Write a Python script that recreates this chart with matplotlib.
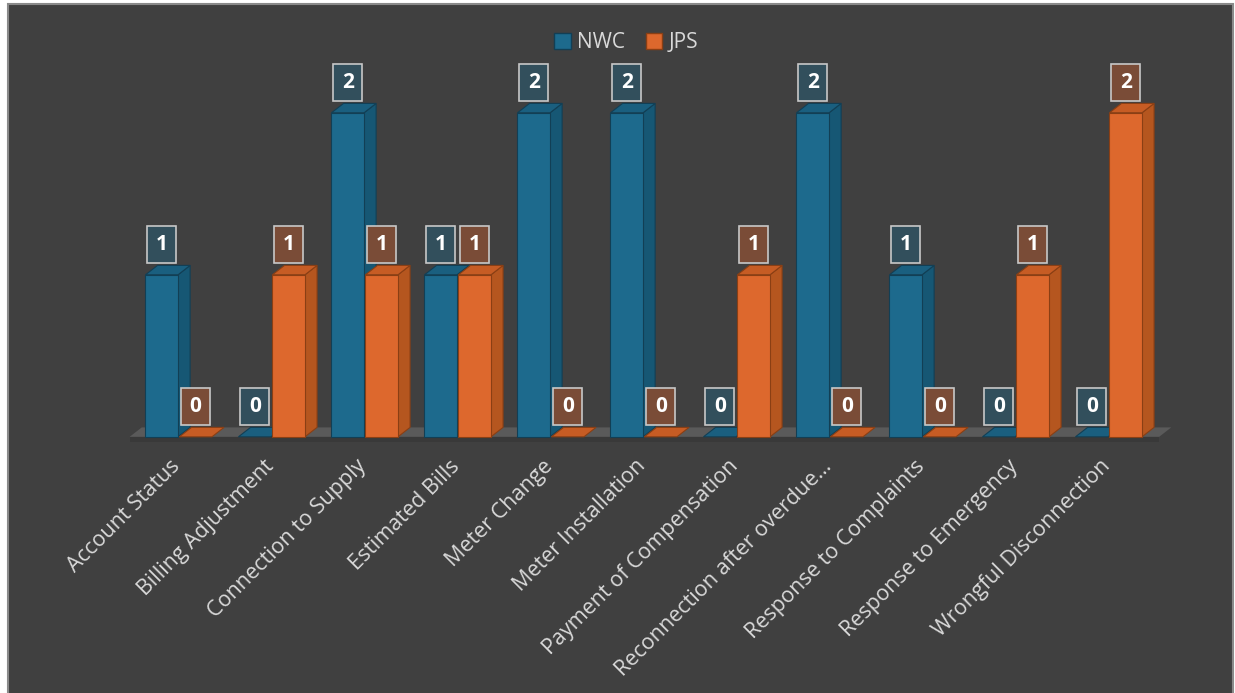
import matplotlib
matplotlib.use("Agg")
import matplotlib.pyplot as plt
from matplotlib.patches import Polygon, Rectangle, Patch
import matplotlib.transforms as mtransforms
import numpy as np

categories = ["Account Status", "Billing Adjustment", "Connection to Supply",
              "Estimated Bills", "Meter Change", "Meter Installation",
              "Payment of Compensation", "Reconnection after overdue\u2026",
              "Response to Complaints", "Response to Emergency",
              "Wrongful Disconnection"]
nwc = [1, 0, 2, 1, 2, 2, 0, 2, 1, 0, 0]
jps = [0, 1, 1, 1, 0, 0, 1, 0, 0, 1, 2]
series_names = ["NWC", "JPS"]

BG = "#404040"
TXT = "#d9d9d9"
# front, side, top, edge
NWC_C = ("#1d6a8d", "#165774", "#1a5f7f", "#123f55")
JPS_C = ("#dd682d", "#b5561f", "#c65c24", "#8a3f14")
LBL_FILL = {"NWC": "#324f5c", "JPS": "#7a4c37"}

plt.rcParams["font.family"] = ["Open Sans", "DejaVu Sans"]

fig = plt.figure(figsize=(12.35, 6.93), dpi=100)
fig.patch.set_facecolor("white")
fig.patches.append(Rectangle((8 / 1235, -0.01), 1225 / 1235, 1 - 4 / 693 + 0.01,
                             transform=fig.transFigure, facecolor=BG,
                             edgecolor="#8a8a8a", lw=1.5, zorder=-10))

ax = fig.add_axes([125 / 1235, (693 - 453) / 693, 1050 / 1235, 405 / 693])
ax.set_facecolor("none")
ax.set_xlim(-0.57, 10.72)
ax.set_ylim(-0.1, 2.4)
for s in ax.spines.values():
    s.set_visible(False)
ax.set_yticks([])

x = np.arange(len(categories))
w = 0.35
dx, dy = 0.13, 0.058

# floor
ax.add_patch(Polygon([(-0.52, 0), (10.55, 0), (10.55 + dx, dy), (-0.52 + dx, dy)],
                     closed=True, facecolor="#5a5a5a", edgecolor="none", zorder=1))
ax.add_patch(Rectangle((-0.52, -0.035), 11.07, 0.035, facecolor="#393939",
                       edgecolor="none", zorder=1))


def draw_bar(x0, v, cols, z):
    front, side, top, edge = cols
    x1 = x0 + w
    if v > 0:
        ax.add_patch(Polygon([(x1, 0), (x1 + dx, dy), (x1 + dx, v + dy), (x1, v)],
                             closed=True, facecolor=side, edgecolor=edge, lw=0.8, zorder=z))
        ax.bar(x0, v, width=w, align="edge", color=front, edgecolor=edge, lw=0.8, zorder=z)
    ax.add_patch(Polygon([(x0, v), (x1, v), (x1 + dx, v + dy), (x0 + dx, v + dy)],
                         closed=True, facecolor=top, edgecolor=edge, lw=0.8, zorder=z))


for i in range(len(categories)):
    draw_bar(x[i] - w, nwc[i], NWC_C, 3)
    draw_bar(x[i] + 0.015, jps[i], JPS_C, 4)

for name, vals, off in [("NWC", nwc, -w / 2), ("JPS", jps, 0.015 + w / 2)]:
    for i, v in enumerate(vals):
        ax.annotate(str(v), (x[i] + off, v + dy), xytext=(0, 7.5), textcoords="offset points",
                    ha="center", va="bottom", color="white", fontsize=15, fontweight="bold",
                    bbox=dict(boxstyle="square,pad=0.4", facecolor=LBL_FILL[name],
                              edgecolor="#c8c8c8", lw=1.2), zorder=6)

ax.set_xticks(x)
ax.set_xticklabels(categories, rotation=45, ha="right", rotation_mode="anchor",
                   color=TXT, fontsize=15.5)
ax.tick_params(axis="x", length=0, pad=2)
shift = mtransforms.ScaledTranslation(-8 / 100, 0, fig.dpi_scale_trans)
for lbl in ax.get_xticklabels():
    lbl.set_transform(lbl.get_transform() + shift)

handles = [Patch(facecolor=NWC_C[0], edgecolor=NWC_C[3]),
           Patch(facecolor=JPS_C[0], edgecolor=JPS_C[3])]
fig.legend(handles, series_names, loc="center", bbox_to_anchor=(0.507, 0.938), ncol=2,
           frameon=False, fontsize=15, labelcolor=TXT, handlelength=0.8, handleheight=0.8,
           handletextpad=0.3, columnspacing=1.0)

fig.savefig("out.png", dpi=100, facecolor=fig.get_facecolor())
